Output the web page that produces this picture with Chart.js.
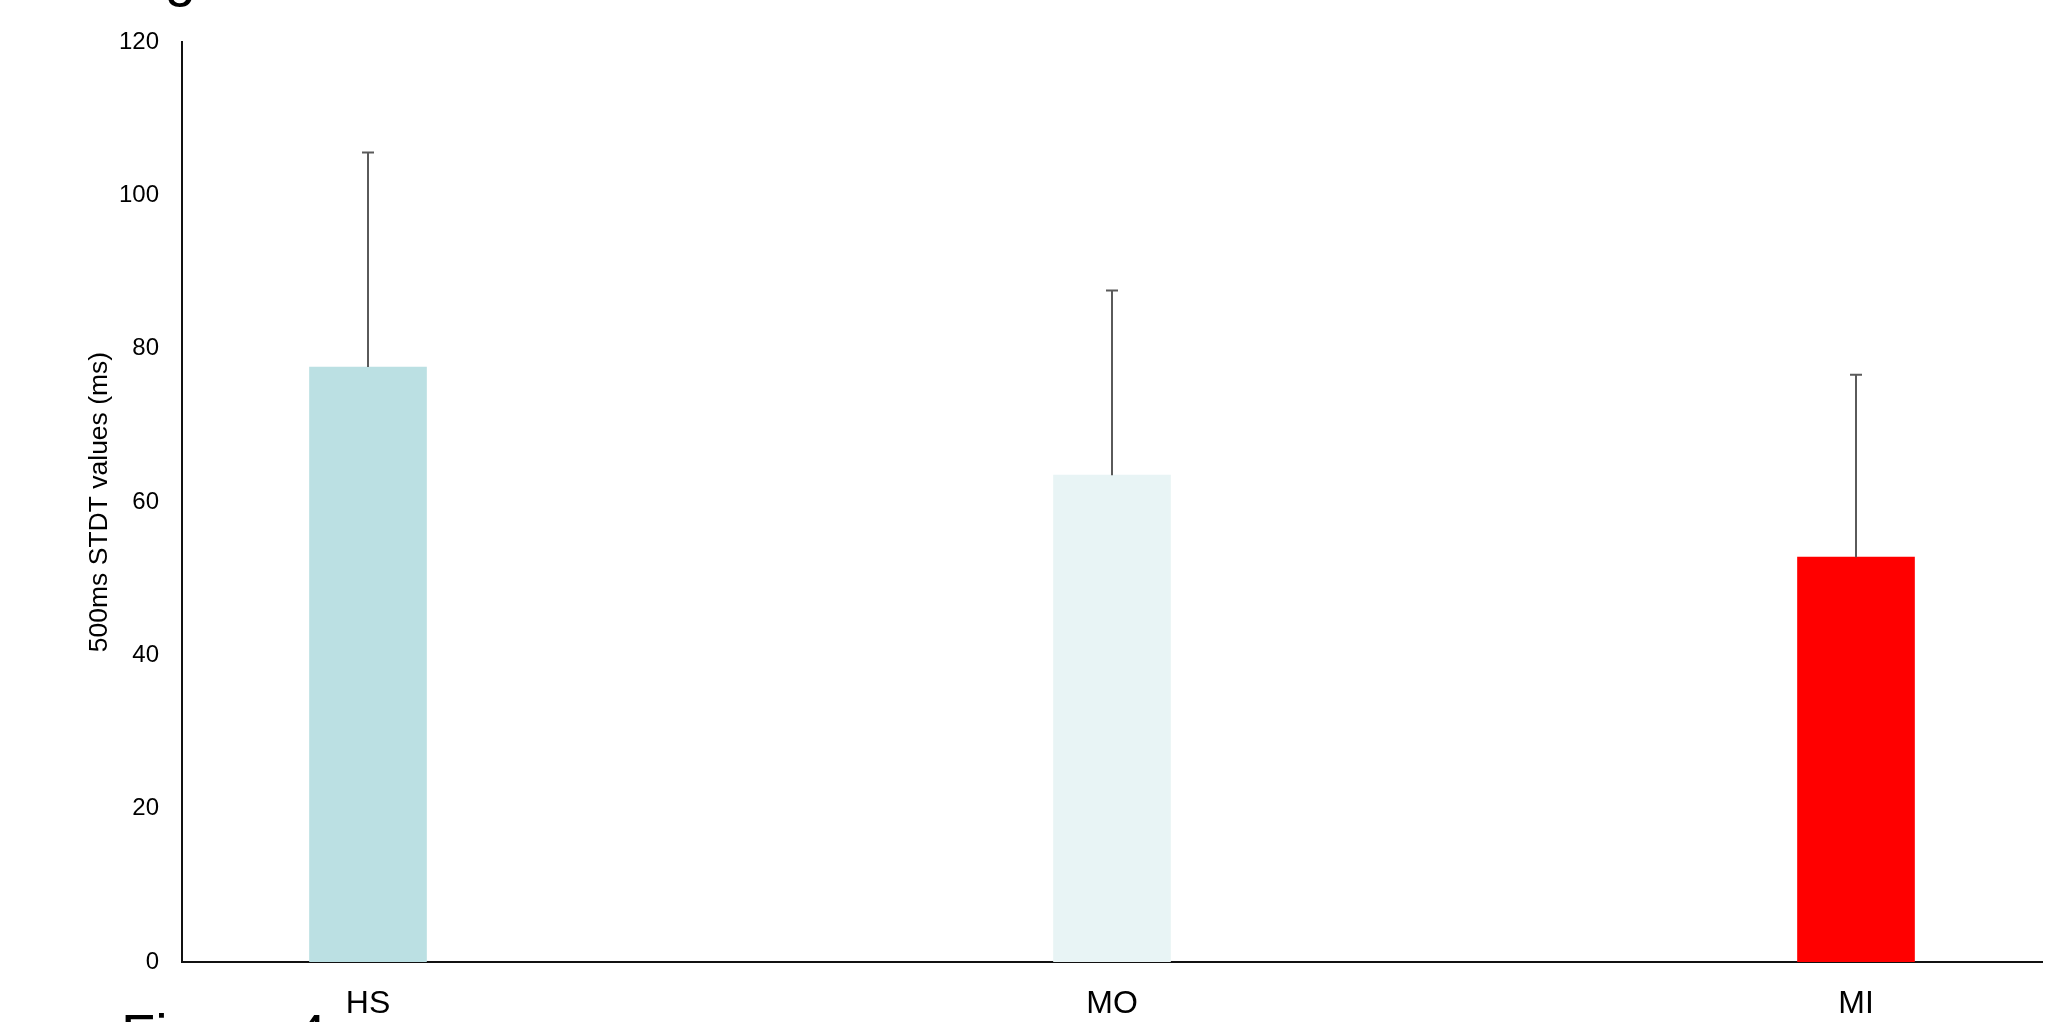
<!DOCTYPE html>
<html>
<head>
<meta charset="utf-8">
<title>500ms STDT values</title>
<script src="https://cdn.jsdelivr.net/npm/chart.js@4.4.1/dist/chart.umd.min.js"></script>
<style>
  html, body { margin: 0; padding: 0; background: #fff; overflow: hidden; }
  #wrap { position: absolute; left: 0; top: 0; width: 2066px; height: 1022px; }
  .cap { position: absolute; font-family: "Liberation Sans", Arial, sans-serif; font-size: 56px; line-height: 56px; color: #000; white-space: nowrap; }
</style>
</head>
<body>
<div class="cap" style="left:118px; top:-52px;">Figure</div>
<div id="wrap"><canvas id="stdtChart"></canvas></div>
<div class="cap" style="left:121px; top:1006px;">Figure 4</div>
<script>
// values
const groups = ['HS', 'MO', 'MI'];
const means = [77.6, 63.5, 52.8];
const sdUp = [28.0, 24.1, 23.8];
const barColors = ['#BBE0E3', '#E8F4F5', '#FF0000'];
const yTicks = [0, 20, 40, 60, 80, 100, 120];

const FONT = '"Liberation Sans", Arial, sans-serif';

// draws the upper error bar with a small cap on each bar
const errorBars = {
  id: 'errorBars',
  afterDatasetsDraw(chart) {
    const ctx = chart.ctx;
    const yScale = chart.scales.y;
    const meta = chart.getDatasetMeta(0);
    ctx.save();
    ctx.strokeStyle = '#5a5a5a';
    ctx.lineWidth = 2;
    meta.data.forEach((bar, i) => {
      const top = yScale.getPixelForValue(means[i] + sdUp[i]);
      ctx.beginPath();
      ctx.moveTo(bar.x, bar.y);
      ctx.lineTo(bar.x, top);
      ctx.moveTo(bar.x - 6, top);
      ctx.lineTo(bar.x + 6, top);
      ctx.stroke();
    });
    ctx.restore();
  }
};

const ctx = document.getElementById('stdtChart').getContext('2d');
new Chart(ctx, {
  type: 'bar',
  data: {
    datasets: [{
      data: groups.map((g, i) => ({ x: i, y: means[i] })),
      backgroundColor: barColors,
      borderWidth: 0,
      barThickness: 117
    }]
  },
  options: {
    responsive: true,
    maintainAspectRatio: false,
    animation: false,
    layout: { padding: { left: 0, right: 24, top: 42, bottom: 0 } },
    plugins: {
      legend: { display: false },
      tooltip: { enabled: false }
    },
    scales: {
      x: {
        type: 'linear',
        offset: false,
        min: -0.25,
        max: 2.25,
        grid: { display: false, drawTicks: false, offset: false },
        border: { display: true, color: '#111', width: 2 },
        afterBuildTicks: (scale) => {
          scale.ticks = groups.map((g, i) => ({ value: i }));
        },
        afterFit: (scale) => { scale.height = 60; },
        ticks: {
          autoSkip: false,
          maxRotation: 0,
          padding: 23,
          color: '#000',
          font: { family: FONT, size: 32 },
          callback: (v) => groups[v] ?? ''
        }
      },
      y: {
        min: 0,
        max: 120,
        grid: { display: false, drawTicks: false },
        border: { display: true, color: '#111', width: 2 },
        afterBuildTicks: (scale) => {
          scale.ticks = yTicks.map(v => ({ value: v }));
        },
        afterFit: (scale) => { scale.width = 182; },
        ticks: {
          padding: 23,
          color: '#000',
          font: { family: FONT, size: 24 }
        },
        title: {
          display: true,
          text: '500ms STDT values (ms)',
          color: '#000',
          font: { family: FONT, size: 26.5 },
          padding: { top: 84, bottom: 0 }
        }
      }
    }
  },
  plugins: [errorBars]
});
</script>
</body>
</html>
